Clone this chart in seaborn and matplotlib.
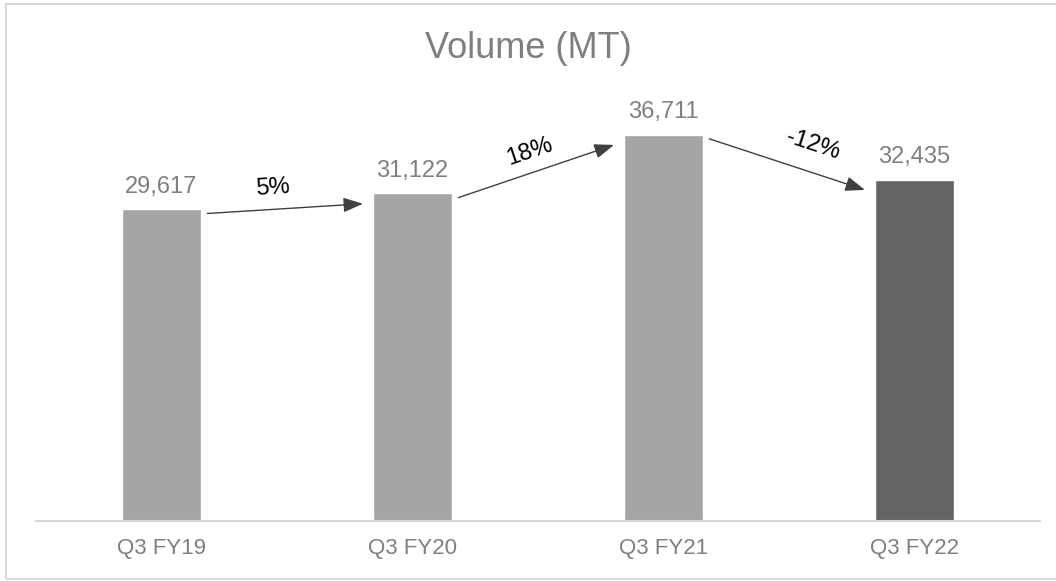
import numpy as np
import pandas as pd
import matplotlib
matplotlib.use('Agg')
import matplotlib.pyplot as plt
import seaborn as sns
from matplotlib.patches import Rectangle

# данные
quarters = ['Q3 FY19', 'Q3 FY20', 'Q3 FY21', 'Q3 FY22']
volume = [29617, 31122, 36711, 32435]
bar_colors = ['#A5A5A5', '#A5A5A5', '#A5A5A5', '#646464']

sns.set_style('white')
plt.rcParams['font.family'] = ['Liberation Sans', 'DejaVu Sans']

df = pd.DataFrame({'quarter': quarters, 'volume': volume})

W, H = 1056, 581
fig = plt.figure(figsize=(W / 100, H / 100), dpi=100)
ax = fig.add_axes([36 / W, 1 - 521 / H, 1004 / W, 421 / H])

sns.barplot(data=df, x='quarter', y='volume', hue='quarter', palette=bar_colors,
            width=0.315, legend=False, ax=ax, saturation=1)

ax.set_ylim(0, 40000)
ax.set_xlim(-0.5, 3.5)
ax.set_yticks([])
ax.set_xlabel('')
ax.set_ylabel('')
for s in ['top', 'right', 'left']:
    ax.spines[s].set_visible(False)
ax.spines['bottom'].set_color('#D9D9D9')
ax.spines['bottom'].set_linewidth(1.5)
ax.tick_params(axis='x', length=0, pad=12, labelsize=16, labelcolor='#7F7F7F')

# подписи значений
for i, v in enumerate(volume):
    ax.annotate(f'{v:,}', xy=(i, v), xytext=(0, 12), textcoords='offset points',
                ha='center', va='baseline', fontsize=17, color='#7F7F7F')

# заголовок
fig.text(0.5, 1 - 58 / H, 'Volume (MT)', ha='center', va='baseline', fontsize=26, color='#7F7F7F')

# стрелки с изменением
half = 0.315 / 2
label_dx = [-8, 0, 14]
for i in range(len(volume) - 1):
    x0, x1 = i + half + 0.025, i + 1 - half - 0.04
    y0, y1 = volume[i] - 400, volume[i + 1] - 980
    ax.annotate('', xy=(x1, y1), xytext=(x0, y0),
                arrowprops=dict(arrowstyle='-|>,head_length=1.2,head_width=0.45',
                                color='#404040', lw=1.0, shrinkA=0, shrinkB=0))
    pct = (volume[i + 1] / volume[i] - 1) * 100
    p0 = ax.transData.transform((x0, y0))
    p1 = ax.transData.transform((x1, y1))
    ang = np.arctan2(p1[1] - p0[1], p1[0] - p0[0])
    off = 15
    dx = -off * np.sin(ang) + label_dx[i]
    dy = off * np.cos(ang)
    ax.annotate(f'{pct:.0f}%', xy=((x0 + x1) / 2, (y0 + y1) / 2), xytext=(dx, dy),
                textcoords='offset points', ha='center', va='center', rotation=np.degrees(ang),
                rotation_mode='anchor', fontsize=17, color='black')

# рамка
fig.patches.append(Rectangle((6 / W, 2 / H), 1060 / W, 575 / H, transform=fig.transFigure,
                             fill=False, edgecolor='#D9D9D9', lw=1.5))

plt.savefig('out.png', dpi=100)
